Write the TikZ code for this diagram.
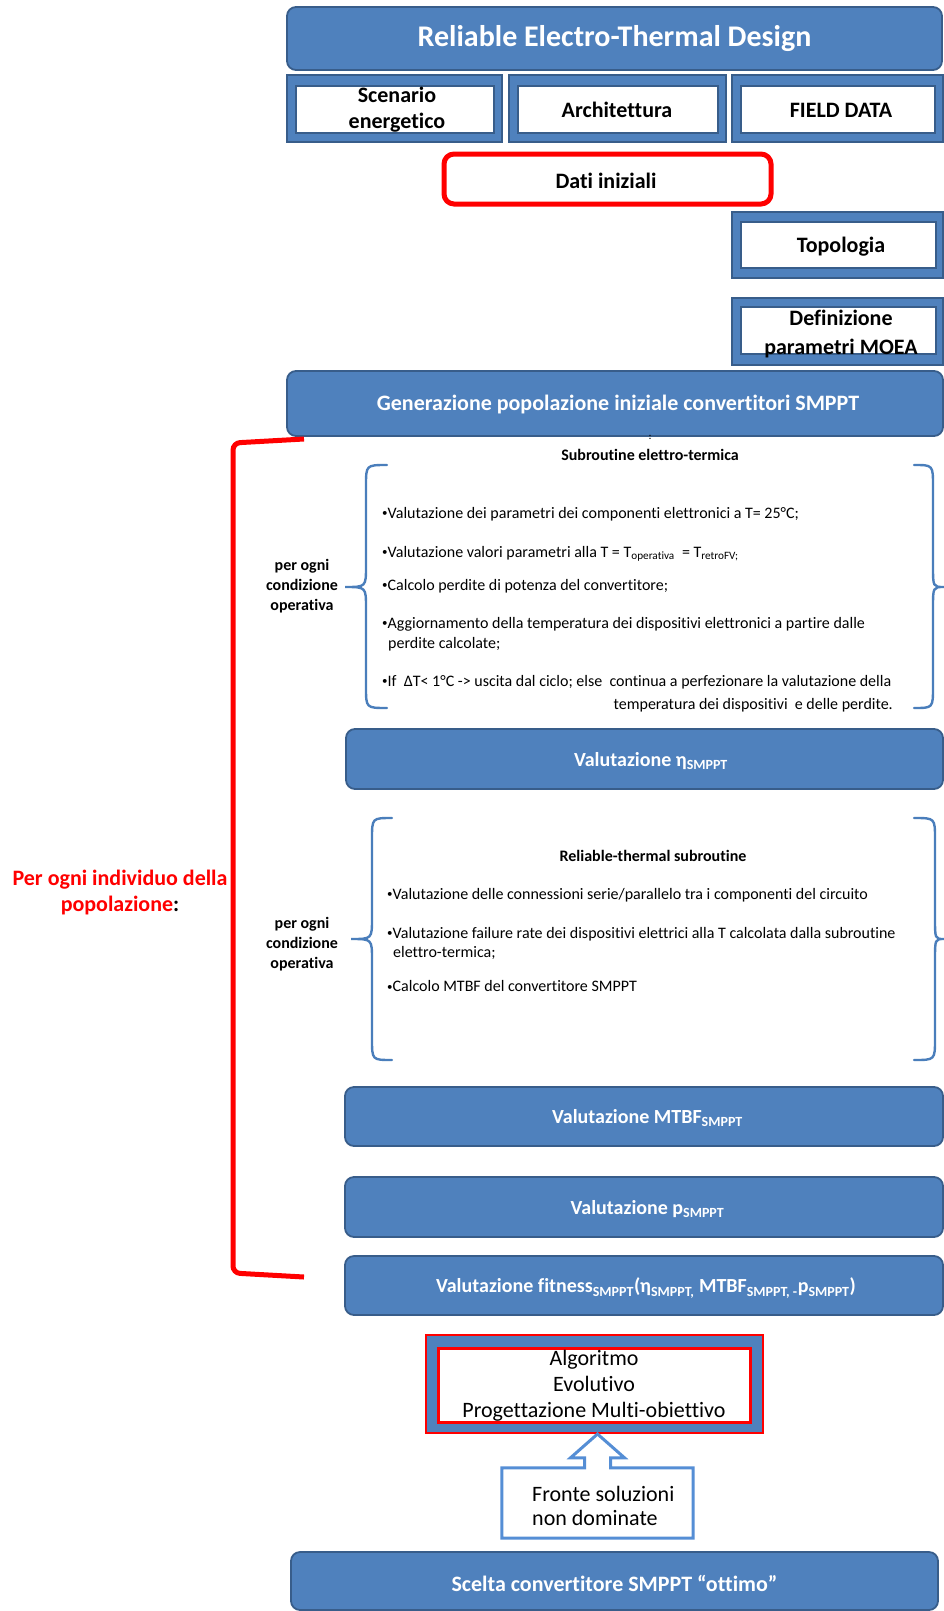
\documentclass[tikz,border=0pt]{standalone}
\usepackage{fontspec}
\setmainfont{Carlito}[Ligatures=NoCommon]
\usetikzlibrary{calc}
\definecolor{bfill}{HTML}{4F81BD}
\definecolor{bline}{HTML}{385D8A}
\definecolor{bracecol}{HTML}{4A7EBB}
\definecolor{calloutcol}{HTML}{558ED5}
\definecolor{redline}{HTML}{FF0000}
\newcommand\fs[2]{\fontsize{#1}{#2}\selectfont}
\newcommand\bu{\raisebox{1.5pt}{\fs{11}{12}•}}
\begin{document}
\begin{tikzpicture}[x=1pt,y=-1pt,
  bluebox/.style={draw=bline, line width=1.8pt, fill=bfill, rounded corners=9pt, inner sep=0pt},
  whitetxt/.style={text=white, font=\bfseries\fs{20}{24}, inner sep=0pt, align=center},
  frameout/.style={draw=bline, line width=1.8pt, fill=bfill, inner sep=0pt},
  framein/.style={draw=bline, line width=1.2pt, fill=white, inner sep=0pt},
  frametxt/.style={font=\bfseries\fs{22}{26}, inner sep=0pt, align=center},
  bracestyle/.style={draw=bracecol, line width=2.4pt, line cap=round},
  bul/.style={anchor=west, inner sep=0pt, font=\fs{16}{20}},
  bulr/.style={anchor=east, inner sep=0pt, font=\fs{16}{20}},
  subttl/.style={inner sep=0pt, font=\bfseries\fs{16}{20}},
  cond/.style={inner sep=0pt, font=\bfseries\fs{16}{20}, align=center},
]
\useasboundingbox (0,0) rectangle (944,1611);

% title
\node[bluebox, minimum width=655pt, minimum height=63pt] (title) at (614.5,38.5) {};
\node[whitetxt, font=\bfseries\fs{30}{36}] (titlet) at (title.center) {Reliable Electro-Thermal Design};

% three boxes
\node[frameout, minimum width=215pt, minimum height=67pt] (b1) at (394.5,108.5) {};
\node[framein, minimum width=198pt, minimum height=47pt] (b1in) at (395,109.5) {};
\node[frametxt] (b1t) at (397,110) {Scenario\\energetico};
\node[frameout, minimum width=217pt, minimum height=67pt] (b2) at (617.5,108.5) {};
\node[framein, minimum width=200pt, minimum height=47pt] (b2in) at (618,109.5) {};
\node[frametxt] (b2t) at (617,110) {Architettura};
\node[frameout, minimum width=211pt, minimum height=67pt] (b3) at (837.5,108.5) {};
\node[framein, minimum width=194pt, minimum height=47pt] (b3in) at (838,109.5) {};
\node[frametxt] (b3t) at (841,110) {FIELD DATA};

% dati iniziali
\node[draw=redline, line width=5pt, rounded corners=10pt, fill=white, minimum width=327pt, minimum height=50pt, inner sep=0pt] (dati) at (607.5,179) {};
\node[frametxt] (datit) at (606,181) {Dati iniziali};

% topologia
\node[frameout, minimum width=211pt, minimum height=66pt] (topo) at (837.5,245) {};
\node[framein, minimum width=195pt, minimum height=46pt] (topoin) at (838.5,245) {};
\node[frametxt] (topot) at (841,247) {Topologia};

% definizione
\node[frameout, minimum width=211pt, minimum height=67pt] (defi) at (837.5,331.5) {};
\node[framein, minimum width=195pt, minimum height=47pt] (defiin) at (838.5,330.5) {};
\node[frametxt, font=\bfseries\fs{22}{29}] (defit) at (841,334) {Definizione\\parametri MOEA};

% generazione
\node[bluebox, minimum width=656pt, minimum height=65pt] (gen) at (615,403.5) {};
\node[whitetxt, font=\bfseries\fs{22}{26}] (gent) at (618,405) {Generazione popolazione iniziale convertitori SMPPT};
\node[inner sep=0pt, font=\bfseries\fs{9}{10}] (dots) at (650,437) {:};

% red bracket
\draw[redline, line width=5pt, rounded corners=7pt] (304,439) -- (233,443) -- (233,1273) -- (304,1277);
\node[inner sep=0pt, font=\bfseries\fs{22}{26}, text=redline, align=center] (popt) at (120,893) {Per ogni individuo della\\popolazione\textcolor{black}{:}};

% subroutine elettro-termica
\node[subttl] (sub1) at (650,455) {Subroutine elettro-termica};
\draw[bracestyle] (387,465) .. controls (366,465) .. (366,486) -- (366,566) .. controls (366,587) .. (345,587) .. controls (366,587) .. (366,608) -- (366,687) .. controls (366,708) .. (387,708);
\draw[bracestyle] (914,465) .. controls (933,465) .. (933,486) -- (933,566) .. controls (933,587) .. (944,587) .. controls (933,587) .. (933,608) -- (933,687) .. controls (933,708) .. (914,708);
\node[cond] (cond1) at (302,586) {per ogni\\condizione\\operativa};
\node[bul] (e1) at (382,514) {\bu Valutazione dei parametri dei componenti elettronici a T= 25°C;};
\node[bul] (e2) at (382,554) {\bu Valutazione valori parametri alla T = T\textsubscript{operativa} \ = T\textsubscript{retroFV;}};
\node[bul] (e3) at (382,586) {\bu Calcolo perdite di potenza del convertitore;};
\node[bul] (e4) at (382,624) {\bu Aggiornamento della temperatura dei dispositivi elettronici a partire dalle};
\node[bul] (e4b) at (388,644) {perdite calcolate;};
\node[bul] (e5) at (382,682) {\bu If \ ΔT< 1°C -> uscita dal ciclo; else \ continua a perfezionare la valutazione della};
\node[bulr] (e5b) at (893,705) {temperatura dei dispositivi \ e delle perdite.};

% eta
\node[bluebox, minimum width=597pt, minimum height=60pt] (eta) at (644.5,759) {};
\node[whitetxt] (etat) at (651,761) {Valutazione η\textsubscript{SMPPT}};

% reliable-thermal
\draw[bracestyle] (392,818) .. controls (372,818) .. (372,839) -- (372,918) .. controls (372,939) .. (351,939) .. controls (372,939) .. (372,960) -- (372,1039) .. controls (372,1060) .. (392,1060);
\draw[bracestyle] (914,818) .. controls (935,818) .. (935,839) -- (935,918) .. controls (935,939) .. (944,939) .. controls (935,939) .. (935,960) -- (935,1039) .. controls (935,1060) .. (914,1060);
\node[subttl] (sub2) at (653,856) {Reliable-thermal subroutine};
\node[cond] (cond2) at (302,944) {per ogni\\condizione\\operativa};
\node[bul] (r1) at (387,895) {\bu Valutazione delle connessioni serie/parallelo tra i componenti del circuito};
\node[bul] (r2) at (387,934) {\bu Valutazione failure rate dei dispositivi elettrici alla T calcolata dalla subroutine};
\node[bul] (r2b) at (393,953) {elettro-termica;};
\node[bul] (r3) at (387,986) {\bu Calcolo MTBF del convertitore SMPPT};

% MTBF, p, fitness
\node[bluebox, minimum width=598pt, minimum height=59pt] (mtbf) at (644,1116.5) {};
\node[whitetxt] (mtbft) at (647.5,1118) {Valutazione MTBF\textsubscript{SMPPT}};
\node[bluebox, minimum width=598pt, minimum height=60pt] (pbox) at (644,1207) {};
\node[whitetxt] (pboxt) at (647.5,1209) {Valutazione p\textsubscript{SMPPT}};
\node[bluebox, minimum width=598pt, minimum height=59pt] (fit) at (644,1285.5) {};
\node[whitetxt] (fitt) at (646,1288) {Valutazione fitness\textsubscript{SMPPT}(η\textsubscript{SMPPT,} MTBF\textsubscript{SMPPT, -}p\textsubscript{SMPPT})};

% algoritmo
\node[draw=redline, line width=2pt, fill=bfill, minimum width=337pt, minimum height=98pt, inner sep=0pt] (alg) at (594.5,1384) {};
\node[draw=redline, line width=3pt, fill=white, minimum width=312pt, minimum height=74pt, inner sep=0pt] (algin) at (594,1385) {};
\node[inner sep=0pt, font=\fs{22}{26}, align=center] (algt) at (594,1386) {Algoritmo\\Evolutivo\\Progettazione Multi-obiettivo};

% fronte callout
\node[minimum width=191pt, minimum height=70pt, inner sep=0pt] (fr) at (597.5,1503) {};
\draw[draw=calloutcol, line width=3pt, fill=white, line join=miter]
  (fr.south west) -- (fr.north west) -- ($(fr.north)+(-13,0)$) -- ($(fr.north)+(-13,-10)$)
  -- ($(fr.north)+(-27,-10)$) -- (fr.north |- alg.south) -- ($(fr.north)+(27,-10)$)
  -- ($(fr.north)+(13,-10)$) -- ($(fr.north)+(13,0)$) -- (fr.north east) -- (fr.south east) -- cycle;
\node[inner sep=0pt, anchor=west, font=\fs{22}{24}, align=left] (frt) at (532,1506) {Fronte soluzioni\\non dominate};

% scelta
\node[bluebox, minimum width=647pt, minimum height=58pt] (scelta) at (614.5,1581) {};
\node[whitetxt, font=\bfseries\fs{22}{26}] (sceltat) at (614.5,1583) {Scelta convertitore SMPPT “ottimo”};
\end{tikzpicture}
\end{document}
